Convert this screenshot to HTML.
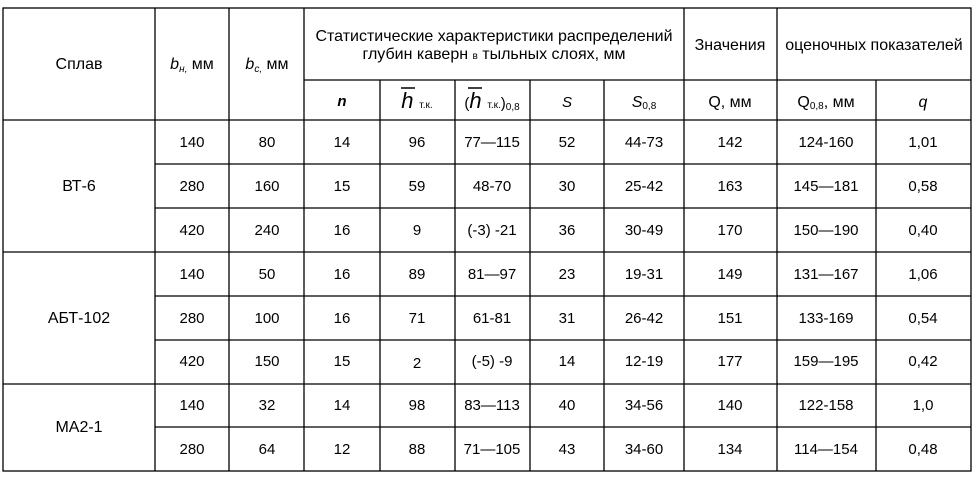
<!DOCTYPE html>
<html><head><meta charset="utf-8"><style>
html,body{margin:0;padding:0;background:#fff;width:977px;height:479px;overflow:hidden}
svg{display:block}
text{font-family:"Liberation Sans",sans-serif;font-size:15px;fill:#000;text-anchor:middle}
.h{font-size:16px}
.s{font-size:10px}
</style></head><body>
<svg width="977" height="479" viewBox="0 0 977 479">
<g stroke="#000" stroke-width="1.3" fill="none">
<rect x="3" y="8" width="968" height="463"/>
<line x1="155" y1="8" x2="155" y2="471"/>
<line x1="229" y1="8" x2="229" y2="471"/>
<line x1="304" y1="8" x2="304" y2="471"/>
<line x1="380" y1="80" x2="380" y2="471"/>
<line x1="455" y1="80" x2="455" y2="471"/>
<line x1="530" y1="80" x2="530" y2="471"/>
<line x1="604" y1="80" x2="604" y2="471"/>
<line x1="684" y1="8" x2="684" y2="471"/>
<line x1="777" y1="8" x2="777" y2="471"/>
<line x1="876" y1="80" x2="876" y2="471"/>
<line x1="304" y1="80" x2="971" y2="80"/>
<line x1="3" y1="120" x2="971" y2="120"/>
<line x1="155" y1="164" x2="971" y2="164"/>
<line x1="155" y1="208" x2="971" y2="208"/>
<line x1="3" y1="252" x2="971" y2="252"/>
<line x1="155" y1="296" x2="971" y2="296"/>
<line x1="155" y1="340" x2="971" y2="340"/>
<line x1="3" y1="384" x2="971" y2="384"/>
<line x1="155" y1="427" x2="971" y2="427"/>
</g>
<text class="h" x="79" y="69">Сплав</text>
<text class="h" x="192" y="69"><tspan font-style="italic">b</tspan><tspan class="s" font-style="italic" dy="3">н,</tspan><tspan dy="-3"> мм</tspan></text>
<text class="h" x="267" y="69"><tspan font-style="italic">b</tspan><tspan class="s" font-style="italic" dy="3">с,</tspan><tspan dy="-3"> мм</tspan></text>
<text class="h" x="494" y="41">Статистические характеристики распределений</text>
<text class="h" x="494" y="59">глубин каверн <tspan class="s">в</tspan>  тыльных слоях, мм</text>
<text class="h" x="730" y="50">Значения</text>
<text class="h" x="874" y="50">оценочных показателей</text>
<text x="342" y="106" font-style="italic" font-weight="bold" font-size="18">n</text>
<text x="417" y="108"><tspan font-style="italic" font-size="22">h</tspan><tspan class="s" dx="3"> т.к.</tspan></text>
<line x1="401" y1="88" x2="415" y2="88" stroke="#000" stroke-width="1.5"/>
<text x="492" y="108">(<tspan font-style="italic" font-size="22">h</tspan><tspan class="s" dx="3"> т.к.</tspan>)<tspan class="s" dy="2">0,8</tspan></text>
<line x1="468" y1="88" x2="482" y2="88" stroke="#000" stroke-width="1.5"/>
<text x="567" y="107" font-style="italic" font-size="17">S</text>
<text x="644" y="107" class="h"><tspan font-style="italic">S</tspan><tspan class="s" dy="2">0,8</tspan></text>
<text x="730" y="107" class="h">Q, мм</text>
<text x="826" y="107" class="h">Q<tspan class="s" dy="2">0,8</tspan><tspan dy="-2">, мм</tspan></text>
<text x="923" y="107" font-style="italic" class="h">q</text>
<g class="h">
<text class="h" x="79" y="191">ВТ-6</text>
<text class="h" x="79" y="323">АБТ-102</text>
<text class="h" x="79" y="432">МА2-1</text>
</g>
<g>
<text x="192" y="147">140</text><text x="267" y="147">80</text><text x="342" y="147">14</text><text x="417" y="147">96</text><text x="492" y="147">77—115</text><text x="567" y="147">52</text><text x="644" y="147">44-73</text><text x="730" y="147">142</text><text x="826" y="147">124-160</text><text x="923" y="147">1,01</text>
<text x="192" y="191">280</text><text x="267" y="191">160</text><text x="342" y="191">15</text><text x="417" y="191">59</text><text x="492" y="191">48-70</text><text x="567" y="191">30</text><text x="644" y="191">25-42</text><text x="730" y="191">163</text><text x="826" y="191">145—181</text><text x="923" y="191">0,58</text>
<text x="192" y="235">420</text><text x="267" y="235">240</text><text x="342" y="235">16</text><text x="417" y="235">9</text><text x="492" y="235">(-3) -21</text><text x="567" y="235">36</text><text x="644" y="235">30-49</text><text x="730" y="235">170</text><text x="826" y="235">150—190</text><text x="923" y="235">0,40</text>
<text x="192" y="279">140</text><text x="267" y="279">50</text><text x="342" y="279">16</text><text x="417" y="279">89</text><text x="492" y="279">81—97</text><text x="567" y="279">23</text><text x="644" y="279">19-31</text><text x="730" y="279">149</text><text x="826" y="279">131—167</text><text x="923" y="279">1,06</text>
<text x="192" y="323">280</text><text x="267" y="323">100</text><text x="342" y="323">16</text><text x="417" y="323">71</text><text x="492" y="323">61-81</text><text x="567" y="323">31</text><text x="644" y="323">26-42</text><text x="730" y="323">151</text><text x="826" y="323">133-169</text><text x="923" y="323">0,54</text>
<text x="192" y="366">420</text><text x="267" y="366">150</text><text x="342" y="366">15</text><text x="417" y="368">2</text><text x="492" y="366">(-5) -9</text><text x="567" y="366">14</text><text x="644" y="366">12-19</text><text x="730" y="366">177</text><text x="826" y="366">159—195</text><text x="923" y="366">0,42</text>
<text x="192" y="410">140</text><text x="267" y="410">32</text><text x="342" y="410">14</text><text x="417" y="410">98</text><text x="492" y="410">83—113</text><text x="567" y="410">40</text><text x="644" y="410">34-56</text><text x="730" y="410">140</text><text x="826" y="410">122-158</text><text x="923" y="410">1,0</text>
<text x="192" y="454">280</text><text x="267" y="454">64</text><text x="342" y="454">12</text><text x="417" y="454">88</text><text x="492" y="454">71—105</text><text x="567" y="454">43</text><text x="644" y="454">34-60</text><text x="730" y="454">134</text><text x="826" y="454">114—154</text><text x="923" y="454">0,48</text>
</g>
</svg>
</body></html>
